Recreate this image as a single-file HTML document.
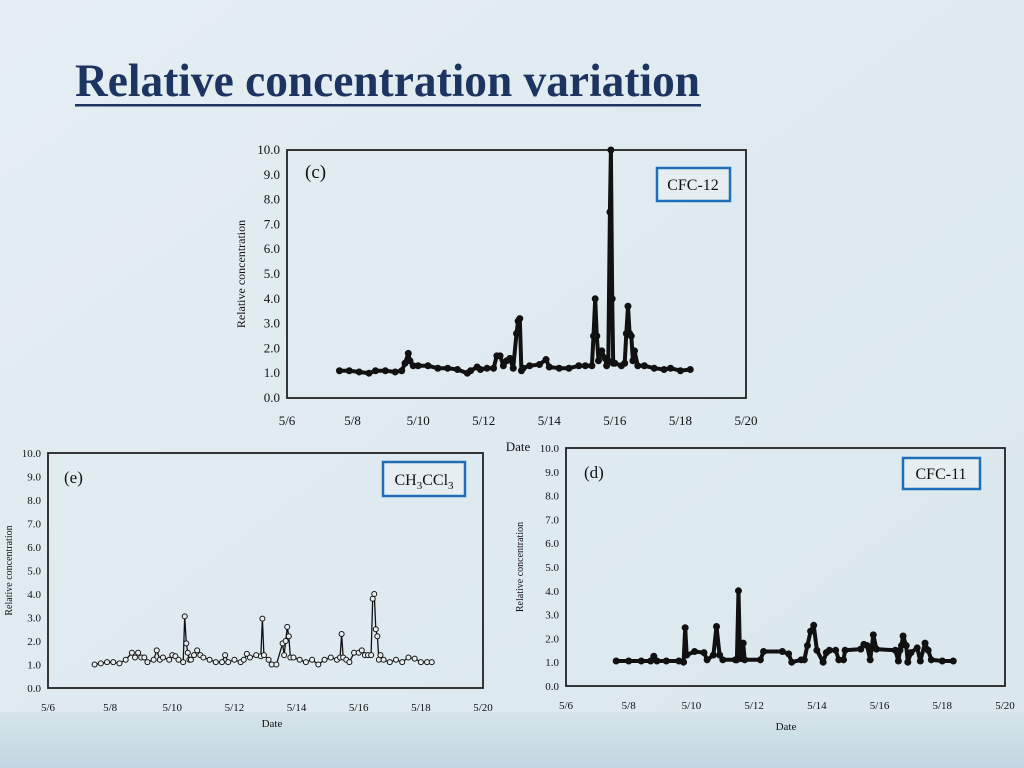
<!DOCTYPE html>
<html><head><meta charset="utf-8"><style>
html,body{margin:0;padding:0;width:1024px;height:768px;overflow:hidden;background:#dfeaef}
svg{display:block;font-family:"Liberation Serif",serif}
</style></head><body>
<svg id="s" width="1024" height="768" viewBox="0 0 1024 768">
<defs>
<linearGradient id="bg" x1="0" y1="0" x2="1" y2="1"><stop offset="0" stop-color="#e4eef2"/><stop offset="1" stop-color="#d9e7ed"/></linearGradient>
<linearGradient id="band" x1="0" y1="0" x2="0" y2="1"><stop offset="0" stop-color="#d6e4ea"/><stop offset="1" stop-color="#c2d7e1"/></linearGradient>
</defs>
<rect width="1024" height="768" fill="url(#bg)"/>
<rect y="712" width="1024" height="56" fill="url(#band)"/>
<text x="75" y="96" font-size="47" font-weight="bold" fill="#1d3461" textLength="625" lengthAdjust="spacingAndGlyphs">Relative concentration variation</text>
<rect x="75" y="104" width="626" height="2.5" fill="#1d3461"/>
<g id="charts"></g>
</svg>
<script>
// Chart (c) CFC-12
const cDays=[7.6,7.9,8.2,8.5,8.7,9.0,9.3,9.5,9.6,9.7,9.75,9.85,10.0,10.3,10.6,10.9,11.2,11.5,11.6,11.8,11.9,12.1,12.3,12.4,12.5,12.6,12.7,12.8,12.9,13.0,13.05,13.1,13.15,13.2,13.4,13.7,13.9,14.0,14.3,14.6,14.9,15.1,15.3,15.35,15.4,15.45,15.5,15.6,15.7,15.75,15.8,15.85,15.88,15.92,15.95,16.0,16.2,16.3,16.35,16.4,16.45,16.5,16.55,16.6,16.7,16.9,17.2,17.5,17.7,18.0,18.3];
const cVals=[1.1,1.1,1.05,1.0,1.1,1.1,1.05,1.1,1.4,1.8,1.5,1.3,1.3,1.3,1.2,1.2,1.15,1.0,1.1,1.25,1.15,1.2,1.2,1.7,1.7,1.3,1.5,1.6,1.2,2.6,3.1,3.2,1.1,1.2,1.3,1.35,1.55,1.25,1.2,1.2,1.3,1.3,1.3,2.5,4.0,2.5,1.5,1.9,1.6,1.3,1.5,7.5,10.0,4.0,1.4,1.4,1.3,1.4,2.6,3.7,2.6,2.5,1.5,1.9,1.3,1.3,1.2,1.15,1.2,1.1,1.15];
// Chart (e) CH3CCl3
const eDays=[7.5,7.7,7.9,8.1,8.3,8.5,8.7,8.8,8.9,9.0,9.1,9.2,9.4,9.5,9.6,9.7,9.9,10.0,10.1,10.2,10.35,10.4,10.45,10.5,10.55,10.6,10.7,10.8,10.9,11.0,11.2,11.4,11.6,11.7,11.8,12.0,12.2,12.3,12.4,12.5,12.7,12.85,12.9,12.95,13.1,13.2,13.35,13.55,13.6,13.65,13.7,13.75,13.8,13.9,14.1,14.3,14.5,14.7,14.9,15.1,15.3,15.4,15.45,15.5,15.6,15.7,15.85,16.0,16.1,16.2,16.3,16.4,16.45,16.5,16.55,16.6,16.65,16.7,16.8,17.0,17.2,17.4,17.6,17.8,18.0,18.2,18.35];
const eVals=[1.0,1.05,1.1,1.1,1.05,1.2,1.5,1.3,1.5,1.3,1.3,1.1,1.2,1.6,1.2,1.3,1.2,1.4,1.35,1.2,1.1,3.05,1.9,1.5,1.2,1.2,1.4,1.6,1.4,1.3,1.2,1.1,1.1,1.4,1.1,1.2,1.1,1.2,1.45,1.3,1.4,1.35,2.95,1.4,1.2,1.0,1.0,1.9,1.4,2.0,2.6,2.2,1.3,1.3,1.2,1.1,1.2,1.0,1.2,1.3,1.2,1.3,2.3,1.3,1.2,1.1,1.5,1.5,1.6,1.4,1.4,1.4,3.8,4.0,2.5,2.2,1.2,1.4,1.2,1.1,1.2,1.1,1.3,1.25,1.1,1.1,1.1];
// Chart (d) CFC-11
const dDays=[7.6,8.0,8.4,8.7,8.8,8.9,9.2,9.6,9.75,9.8,9.85,10.1,10.4,10.5,10.7,10.8,10.9,11.0,11.4,11.45,11.5,11.55,11.6,11.65,11.7,12.2,12.3,12.9,13.1,13.2,13.5,13.6,13.7,13.8,13.9,14.0,14.2,14.3,14.4,14.6,14.7,14.85,14.9,15.4,15.5,15.6,15.7,15.75,15.8,15.9,16.5,16.6,16.65,16.7,16.75,16.85,16.9,17.0,17.2,17.3,17.45,17.55,17.65,18.0,18.35];
const dVals=[1.05,1.05,1.05,1.05,1.25,1.05,1.05,1.05,1.0,2.45,1.3,1.45,1.4,1.1,1.3,2.5,1.3,1.1,1.1,1.1,4.0,1.2,1.15,1.8,1.1,1.1,1.45,1.45,1.35,1.0,1.1,1.1,1.7,2.3,2.55,1.5,1.0,1.4,1.5,1.5,1.1,1.1,1.5,1.55,1.75,1.7,1.1,1.6,2.15,1.55,1.5,1.05,1.5,1.7,2.1,1.7,1.0,1.4,1.6,1.05,1.8,1.5,1.1,1.05,1.05];
const yTicks=["0.0","1.0","2.0","3.0","4.0","5.0","6.0","7.0","8.0","9.0","10.0"];
const xTicks=["5/6","5/8","5/10","5/12","5/14","5/16","5/18","5/20"];
const xTickDays=[6,8,10,12,14,16,18,20];

const NS="http://www.w3.org/2000/svg";
const root=document.getElementById('charts');
function mk(tag,attrs,parent){const e=document.createElementNS(NS,tag);for(const k in attrs)e.setAttribute(k,attrs[k]);(parent||root).appendChild(e);return e;}

function chart(name,box,days,vals,filled,tag,lbox,dateLbl){
  const g=mk('g',{});
  
  
  const xs=d=>box.x0+(d-6)/14*(box.x1-box.x0);
  const ys=v=>box.y1-v/10*(box.y1-box.y0);
  const r=mk('rect',{x:box.x0,y:box.y0,width:box.x1-box.x0,height:box.y1-box.y0,fill:'none',stroke:'#222','stroke-width':1.8},g);
  
  
  yTicks.forEach((t,i)=>{
    const v=parseFloat(t);
    const tx=mk('text',{x:box.x0-7,y:ys(v)+4,'font-size':box.fs,'text-anchor':'end',fill:'#111'},g);
    tx.textContent=t;
    
    
  });
  xTicks.forEach((t,i)=>{
    const tx=mk('text',{x:xs(xTickDays[i]),y:box.y1+box.xl,'font-size':box.fs,'text-anchor':'middle',fill:'#111'},g);
    tx.textContent=t;
    
    
  });
  const yt=mk('text',{x:0,y:0,'font-size':box.fs-1,'text-anchor':'middle',fill:'#111',transform:`translate(${box.yx},${(box.y0+box.y1)/2}) rotate(-90)`},g);
  yt.textContent='Relative concentration';
  
  
  if(dateLbl){
    const dt=mk('text',{x:dateLbl[0],y:dateLbl[1],'font-size':box.fs,'text-anchor':'middle',fill:'#111'},g);
    dt.textContent='Date';
    
    
  }
  const pts=days.map((d,i)=>xs(d).toFixed(1)+','+ys(vals[i]).toFixed(1)).join(' ');
  const pl=mk('polyline',{points:pts,fill:'none',stroke:'#111','stroke-width':filled?4:1.3,'stroke-linejoin':'round'},g);
  
  
  days.forEach((d,i)=>{
    const c=mk('circle',{cx:xs(d),cy:ys(vals[i]),r:filled?3:2.5,fill:filled?'#111':'#e8eef0',stroke:'#111','stroke-width':1},g);
    
    
  });
  const pt=mk('text',{x:box.x0+box.pl[0],y:box.y0+box.pl[1],'font-size':box.fs+6,fill:'#111'},g);
  pt.textContent=tag;
  
  
  const lb=mk('rect',{x:lbox[0],y:lbox[1],width:lbox[2],height:lbox[3],fill:'#e6eef1',stroke:'#1f6fb8','stroke-width':2.5},g);
  
  
  return {g};
}
const c=chart('chart-cfc12',{x0:287,x1:746,y0:150,y1:398,fs:13,xl:27,yx:245,pl:[18,28]},cDays,cVals,true,'(c)',[657,168,73,33],[518,451]);
let t=mk('text',{x:693,y:190,'font-size':16,'text-anchor':'middle',fill:'#111'},c.g);
t.textContent='CFC-12';


const e=chart('chart-ch3ccl3',{x0:48,x1:483,y0:453,y1:688,fs:11,xl:23,yx:12,pl:[16,30]},eDays,eVals,false,'(e)',[383,462,82,34],[272,727]);
t=mk('text',{x:424,y:485,'font-size':16,'text-anchor':'middle',fill:'#111'},e.g);
t.innerHTML='CH<tspan font-size="11" dy="4">3</tspan><tspan dy="-4">CCl</tspan><tspan font-size="11" dy="4">3</tspan>';


const d=chart('chart-cfc11',{x0:566,x1:1005,y0:448,y1:686,fs:11,xl:23,yx:523,pl:[18,30]},dDays,dVals,true,'(d)',[903,458,77,31],[786,730]);
t=mk('text',{x:941,y:479,'font-size':16,'text-anchor':'middle',fill:'#111'},d.g);
t.textContent='CFC-11';


</script>
</body></html>
